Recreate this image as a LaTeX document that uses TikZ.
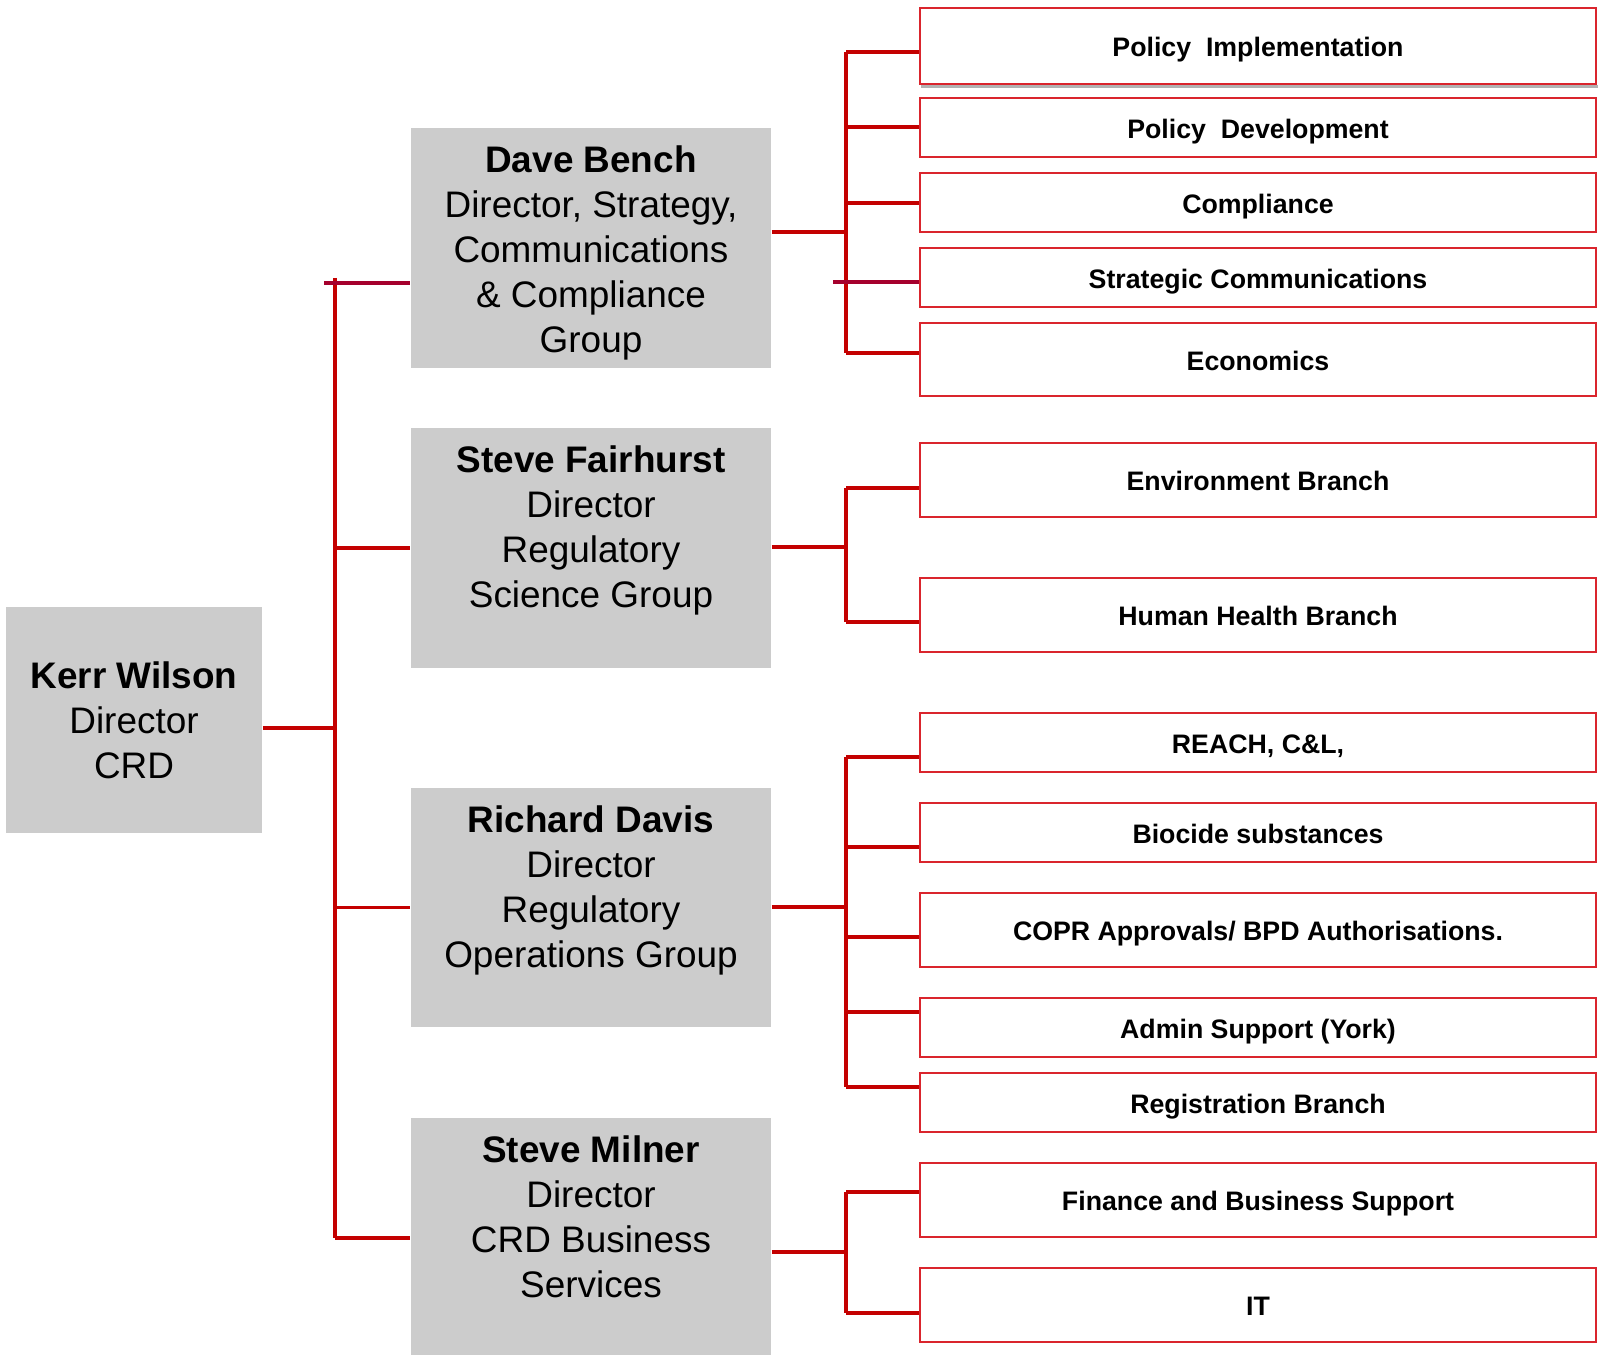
\documentclass[tikz,border=0pt]{standalone}
\usepackage{fontspec}
\setmainfont{Liberation Sans}
\definecolor{LineRed}{RGB}{196, 0, 0}
\definecolor{StubRed}{RGB}{165, 0, 45}
\definecolor{UnitRed}{RGB}{218, 37, 45}
\definecolor{GroupGray}{RGB}{204, 204, 204}
\usetikzlibrary{positioning, calc}

\begin{document}
\begin{tikzpicture}[x=0.01cm, y=-0.01cm]
        \tikzstyle{head} = [rectangle, fill=GroupGray, inner sep=0pt, align=center, font=\fontsize{10.5}{12.8}\selectfont]
        \tikzstyle{group} = [rectangle, fill=GroupGray, minimum width=3.6cm, inner sep=0pt]
        \tikzstyle{grouptext} = [anchor=north, inner sep=0pt, align=center, font=\fontsize{10.5}{12.8}\selectfont]
        \tikzstyle{unit} = [rectangle, draw=UnitRed, line width=0.5pt, minimum width=6.76cm, inner sep=0pt, text height=6pt, text depth=0pt, font=\fontsize{7.6}{9}\selectfont\bfseries]
        \tikzstyle{trunk} = [LineRed, line width=1.3pt]
        \tikzstyle{link} = [LineRed, line width=1pt]

        \useasboundingbox (0,0) rectangle (1598,1355);

        % Head
        \node (kerr) [head, minimum width=2.56cm, minimum height=2.26cm] at (134,720) {\textbf{Kerr Wilson}\\Director\\CRD};

        % Groups
        \node (bench) [group, minimum height=2.4cm] at (591,248) {};
        \node (fair) [group, minimum height=2.4cm] at (591,548) {};
        \node (davis) [group, minimum height=2.39cm] at (591,907.5) {};
        \node (milner) [group, minimum height=2.37cm] at (591,1236.5) {};

        \node (benchtxt) [grouptext] at ([yshift=-0.18cm]bench.north) {\textbf{Dave Bench}\\Director, Strategy,\\Communications\\\& Compliance\\Group};
        \node (fairtxt) [grouptext] at ([yshift=-0.18cm]fair.north) {\textbf{Steve Fairhurst}\\Director\\Regulatory\\Science Group};
        \node (davistxt) [grouptext] at ([yshift=-0.18cm]davis.north) {\textbf{Richard Davis}\\Director\\Regulatory\\Operations Group};
        \node (milnertxt) [grouptext] at ([yshift=-0.18cm]milner.north) {\textbf{Steve Milner}\\Director\\CRD Business\\Services};

        % Units
        \node (polimpl) [unit, minimum height=0.76cm] at (1258,46) {Policy\ \ Implementation};
        \node (poldev) [unit, minimum height=0.59cm] at (1258,127.5) {Policy\ \ Development};
        \node (compl) [unit, minimum height=0.59cm] at (1258,202.5) {Compliance};
        \node (strat) [unit, minimum height=0.59cm] at (1258,277.5) {Strategic Communications};
        \node (econ) [unit, minimum height=0.73cm] at (1258,359.5) {Economics};
        \draw [gray!60, line width=1pt] ([shift={(2,1.6)}]polimpl.south west) -- ([shift={(2,1.6)}]polimpl.south east);

        \node (env) [unit, minimum height=0.74cm] at (1258,480) {Environment Branch};
        \node (health) [unit, minimum height=0.74cm] at (1258,615) {Human Health Branch};

        \node (reach) [unit, minimum height=0.59cm] at (1258,742.5) {REACH, C\&L,};
        \node (biocide) [unit, minimum height=0.59cm] at (1258,832.5) {Biocide substances};
        \node (copr) [unit, minimum height=0.74cm] at (1258,930) {COPR Approvals/ BPD Authorisations.};
        \node (admin) [unit, minimum height=0.59cm] at (1258,1027.5) {Admin Support (York)};
        \node (reg) [unit, minimum height=0.59cm] at (1258,1102.5) {Registration Branch};

        \node (finance) [unit, minimum height=0.74cm] at (1258,1200) {Finance and Business Support};
        \node (it) [unit, minimum height=0.74cm] at (1258,1305) {IT};

        % Trunk
        \coordinate (ttop) at (335,278);
        \coordinate (tbot) at (335,1238);
        \coordinate (stub) at (324,283);
        \draw [trunk] (ttop) -- (tbot);
        \draw [link] (kerr.east |- 0,728) -- (ttop |- 0,728);
        \draw [link, StubRed] (stub) -- (bench.west |- stub);
        \draw [link] (ttop |- fair.west) -- (fair.west);
        \draw [link] (ttop |- davis.west) -- (davis.west);
        \draw [link] (tbot) -- (milner.west |- tbot);

        % Bench branches
        \coordinate (bj) at (846,232);
        \coordinate (sj) at (833,282);
        \draw [link] (bench.east |- bj) -- (bj);
        \draw [link] (bj |- 0,52) -- (bj |- 0,353);
        \foreach \u/\y in {polimpl/52, poldev/127, compl/203, econ/353}
            \draw [link] (bj |- 0,\y) -- (\u.west |- 0,\y);
        \draw [link, StubRed] (sj) -- (strat.west |- sj);

        % Fairhurst branches
        \coordinate (fj) at (846,547);
        \draw [link] (fair.east |- fj) -- (fj);
        \draw [link] (fj |- 0,488) -- (fj |- 0,622);
        \foreach \u/\y in {env/488, health/622}
            \draw [link] (fj |- 0,\y) -- (\u.west |- 0,\y);

        % Davis branches
        \coordinate (dj) at (846,907);
        \draw [link] (davis.east |- dj) -- (dj);
        \draw [link] (dj |- 0,757) -- (dj |- 0,1087);
        \foreach \u/\y in {reach/757, biocide/847, copr/937, admin/1012, reg/1087}
            \draw [link] (dj |- 0,\y) -- (\u.west |- 0,\y);

        % Milner branches
        \coordinate (mj) at (846,1252);
        \draw [link] (milner.east |- mj) -- (mj);
        \draw [link] (mj |- 0,1192) -- (mj |- 0,1313);
        \foreach \u/\y in {finance/1192, it/1313}
            \draw [link] (mj |- 0,\y) -- (\u.west |- 0,\y);
\end{tikzpicture}
\end{document}
